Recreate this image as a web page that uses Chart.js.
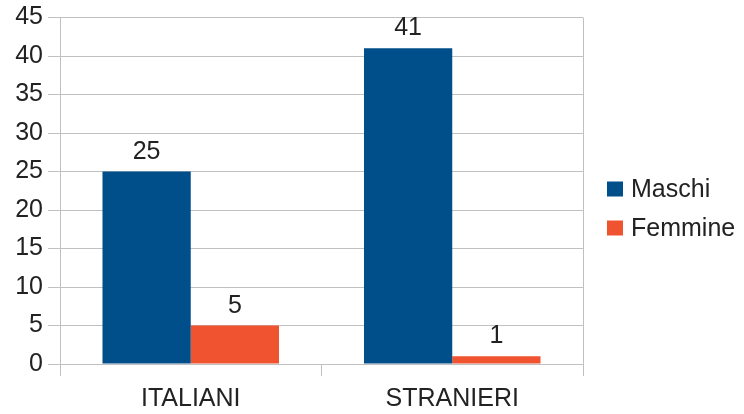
<!DOCTYPE html>
<html>
<head>
<meta charset="utf-8">
<script src="https://cdn.jsdelivr.net/npm/chart.js@4.4.1/dist/chart.umd.min.js"></script>
<style>
html,body{margin:0;padding:0;background:#fff;}
#wrap{width:744px;height:414px;position:relative;}
</style>
</head>
<body>
<div id="wrap"><canvas id="c" width="744" height="414"></canvas></div>
<script>
const categories = ['ITALIANI', 'STRANIERI'];
const seriesNames = ['Maschi', 'Femmine'];
const maschi = [25, 41];
const femmine = [5, 1];
const yTicks = [0, 5, 10, 15, 20, 25, 30, 35, 40, 45];
const colors = ['#004f8a', '#f05330'];

const FONT = "'Liberation Sans', Arial, sans-serif";
const TEXT = '#222222';
const GRID = '#c0c0c0';

const valueLabels = {
  id: 'valueLabels',
  afterDatasetsDraw(chart) {
    const ctx = chart.ctx;
    ctx.save();
    ctx.font = '25px ' + FONT;
    ctx.fillStyle = TEXT;
    ctx.textAlign = 'center';
    ctx.textBaseline = 'alphabetic';
    chart.data.datasets.forEach((ds, di) => {
      chart.getDatasetMeta(di).data.forEach((bar, i) => {
        ctx.fillText(String(ds.data[i]), bar.x, bar.y - 13);
      });
    });
    ctx.restore();
  }
};

const sideLegend = {
  id: 'sideLegend',
  afterDraw(chart) {
    const ctx = chart.ctx;
    const ds = chart.data.datasets;
    const spacing = 39;
    const cy = 189;
    ctx.save();
    ctx.font = '25px ' + FONT;
    ctx.textBaseline = 'middle';
    ctx.textAlign = 'left';
    ds.forEach((d, i) => {
      const y = cy + i * spacing;
      ctx.fillStyle = d.backgroundColor;
      ctx.fillRect(607, y - 7.5, 16, 15);
      ctx.fillStyle = TEXT;
      ctx.fillText(d.label, 631, y + 1);
    });
    ctx.restore();
  }
};

new Chart(document.getElementById('c'), {
  type: 'bar',
  data: {
    labels: categories,
    datasets: [
      { label: seriesNames[0], data: maschi, backgroundColor: colors[0], borderWidth: 0, categoryPercentage: 0.675, barPercentage: 1.0 },
      { label: seriesNames[1], data: femmine, backgroundColor: colors[1], borderWidth: 0, categoryPercentage: 0.675, barPercentage: 1.0 }
    ]
  },
  options: {
    responsive: false,
    animation: false,
    devicePixelRatio: 1,
    layout: { padding: { left: 0, right: 161, top: 17, bottom: 0 } },
    plugins: {
      legend: { display: false },
      tooltip: { enabled: false }
    },
    scales: {
      x: {
        grid: {
          offset: true,
          drawOnChartArea: true,
          color: (c) => (c.index === 1 ? 'rgba(0,0,0,0)' : GRID),
          tickColor: GRID,
          tickLength: 12,
          lineWidth: 1
        },
        border: { display: true, color: GRID },
        ticks: { color: TEXT, font: { family: FONT, size: 25 }, padding: 8 },
        afterFit: (s) => { s.height = 50; }
      },
      y: {
        min: 0,
        max: 45,
        afterBuildTicks: (s) => { s.ticks = yTicks.map(v => ({ value: v })); },
        grid: { color: GRID, tickColor: GRID, tickLength: 12, lineWidth: 1 },
        border: { display: true, color: GRID },
        ticks: { color: TEXT, font: { family: FONT, size: 25, lineHeight: 1 }, padding: 5 },
        afterFit: (s) => { s.width = 60; }
      }
    }
  },
  plugins: [valueLabels, sideLegend]
});
</script>
</body>
</html>
